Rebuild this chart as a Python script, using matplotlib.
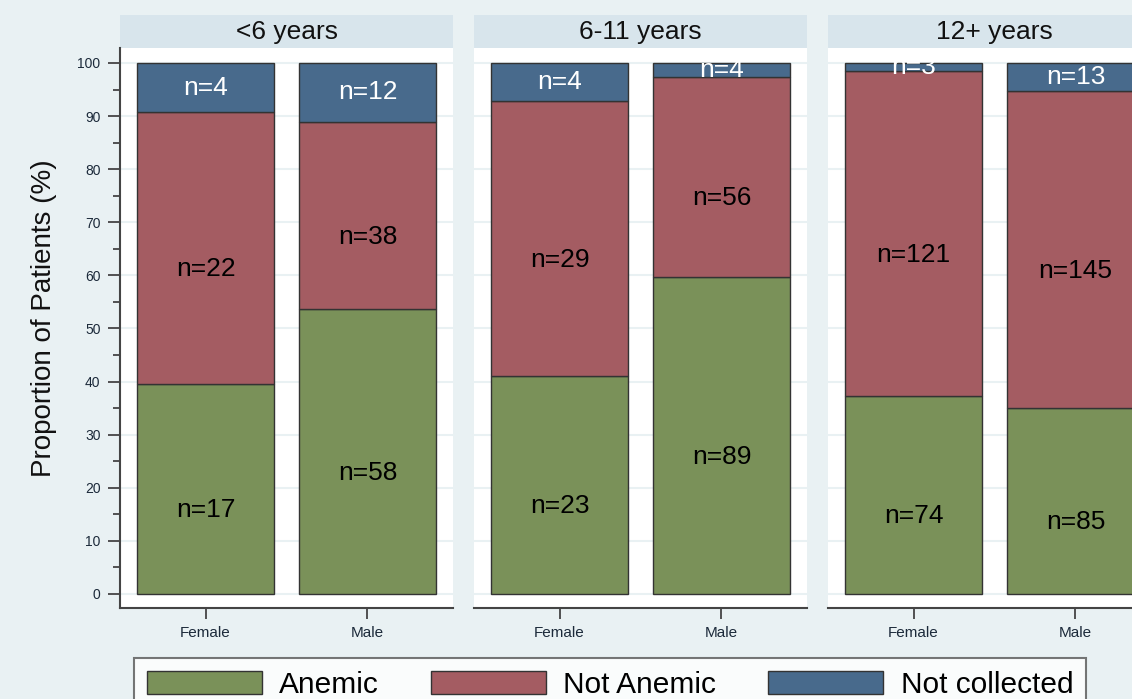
import numpy as np
import matplotlib
matplotlib.use('Agg')
import matplotlib.pyplot as plt
from matplotlib.patches import Patch, Rectangle

plt.rcParams['font.family'] = ['Liberation Sans', 'DejaVu Sans']

# data: patient counts per age group and sex
age_groups = ['<6 years', '6-11 years', '12+ years']
sexes = ['Female', 'Male']
statuses = ['Anemic', 'Not Anemic', 'Not collected']
anemic = [[17, 58], [23, 89], [74, 85]]
not_anemic = [[22, 38], [29, 56], [121, 145]]
not_collected = [[4, 12], [4, 4], [3, 13]]

colors = ['#7a9159', '#a45c62', '#486a8c']
label_colors = ['black', 'black', 'white']
bg = '#e9f1f3'
header_col = '#d8e5ec'

W, H = 1132, 699
fig = plt.figure(figsize=(W / 100, H / 100), dpi=100, facecolor=bg)

# panel geometry in pixels
panel_left = [120, 474, 828]
panel_w = 333
top_px, bot_px = 48, 608

x = np.arange(len(sexes))
for i, grp in enumerate(age_groups):
    ax = fig.add_axes([panel_left[i] / W, 1 - bot_px / H, panel_w / W, (bot_px - top_px) / H])
    ax.set_facecolor('white')
    counts = np.array([anemic[i], not_anemic[i], not_collected[i]], dtype=float)
    pct = counts / counts.sum(axis=0) * 100
    bottom = np.zeros(len(sexes))
    for k in range(len(statuses)):
        ax.bar(x, pct[k], 0.846, bottom=bottom, color=colors[k],
               edgecolor='#333333', linewidth=1, zorder=3)
        for j in range(len(sexes)):
            off = 4 if k < 2 else 0
            ax.text(x[j], bottom[j] + pct[k][j] / 2 - off, 'n=%d' % counts[k][j],
                    ha='center', va='center', fontsize=19,
                    color=label_colors[k], zorder=4)
        bottom += pct[k]

    ax.set_xlim(-0.528, 1.528)
    ax.set_ylim(-2.64, 102.82)
    for yy in range(0, 101, 10):
        ax.axhline(yy, color=bg, linewidth=1.5, zorder=1)

    for s in ['top', 'right']:
        ax.spines[s].set_visible(False)
    ax.spines['bottom'].set_color('#444444')
    ax.spines['bottom'].set_linewidth(1.5)
    ax.set_xticks(x)
    ax.set_xticklabels(sexes, fontsize=11, color='#1c2a3a')
    ax.tick_params(axis='x', length=8, width=1.3, color='#444444', pad=5)

    if i == 0:
        ax.spines['left'].set_color('#444444')
        ax.spines['left'].set_linewidth(1.5)
        ax.set_yticks(range(0, 101, 10))
        ax.set_yticks(range(5, 100, 10), minor=True)
        ax.tick_params(axis='y', which='major', length=9, width=1.3,
                       color='#444444', labelsize=10, labelcolor='#1c2a3a', pad=5)
        ax.tick_params(axis='y', which='minor', length=5, width=1.3, color='#444444')
    else:
        ax.spines['left'].set_visible(False)
        ax.set_yticks([])

    # panel header
    hh = (top_px - 15) / (bot_px - top_px)
    ax.add_patch(Rectangle((0, 1), 1, hh, transform=ax.transAxes,
                           facecolor=header_col, edgecolor='none', clip_on=False))
    ax.text(0.5, 1 + hh / 2, grp, transform=ax.transAxes, ha='center',
            va='center', fontsize=19, color='#111111')

fig.text(44 / W, 1 - 318 / H, 'Proportion of Patients (%)', rotation=90,
         ha='center', va='center', fontsize=20, color='#111111')

handles = [Patch(facecolor=c, edgecolor='#333333', linewidth=1) for c in colors]
leg = fig.legend(handles, statuses, loc='upper left', ncol=3,
                 bbox_to_anchor=(134 / W, 1 - 658 / H), bbox_transform=fig.transFigure,
                 fontsize=21.5, frameon=True, fancybox=False, borderaxespad=0,
                 handlelength=3.85, handleheight=0.85, handletextpad=0.6,
                 columnspacing=1.72, borderpad=0.42)
leg.get_frame().set_edgecolor('#555555')
leg.get_frame().set_linewidth(1.5)
leg.get_frame().set_facecolor('white')

fig.savefig('out.png', dpi=100, facecolor=bg)
